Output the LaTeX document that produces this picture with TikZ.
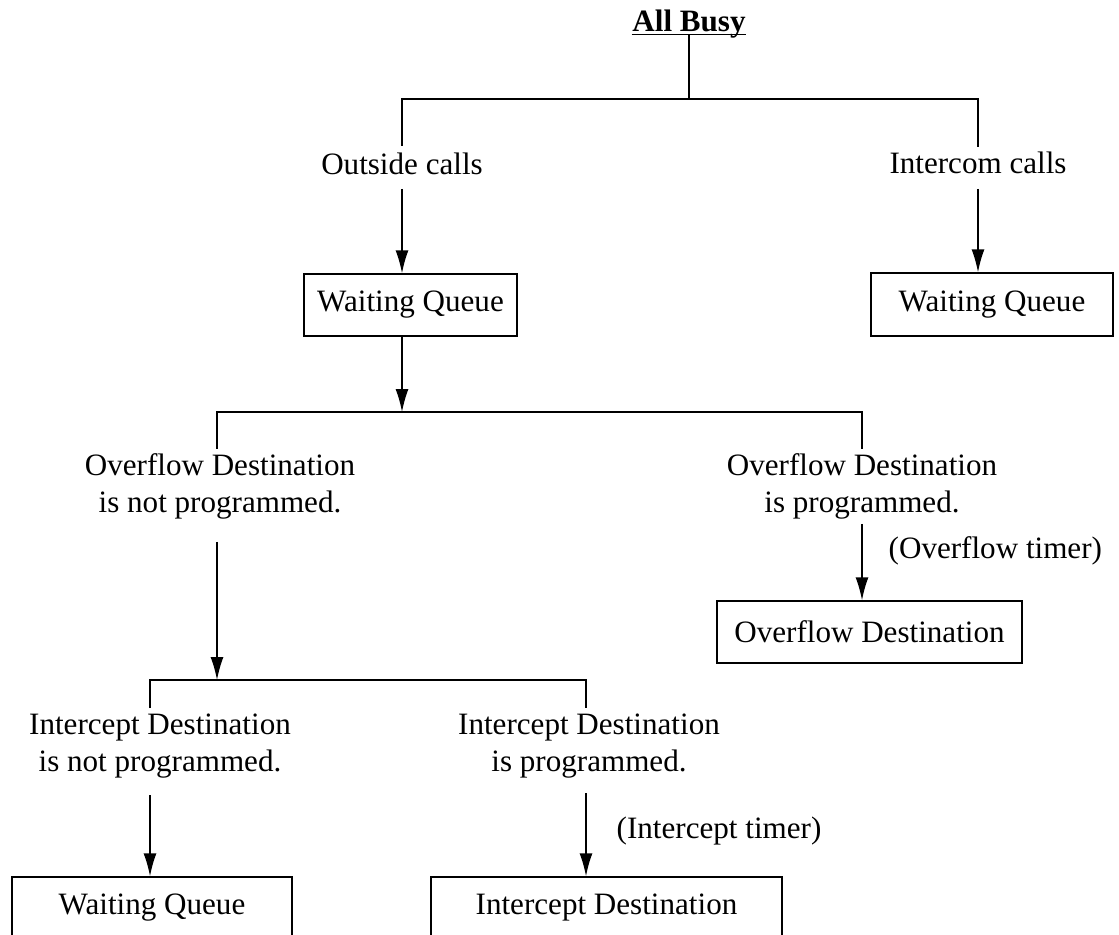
\documentclass[tikz,border=0pt]{standalone}
\usepackage{fontspec}
\setmainfont{Liberation Serif}
\usetikzlibrary{arrows.meta}
\tikzset{font=\fontsize{17.7}{21}\selectfont}
\tikzstyle{point}   = [coordinate]
\tikzstyle{block}   = [draw, rectangle, minimum height=1.24cm, inner sep=0pt]
\tikzstyle{txt}     = [inner sep=0pt, align=center]
\tikzstyle{heading} = [inner sep=0pt, font=\fontsize{17.7}{21}\selectfont\bfseries]

\begin{document}
\begin{tikzpicture}[x=0.02cm, y=-0.02cm, line width=0.8pt, >={Latex[length=4.6mm,width=2.6mm]}]
	\clip (0,0) rectangle (1119,935);

	% all busy
	\node [heading, anchor=base] (busy) at (689,32) {All Busy};
	\draw ([yshift=-1.3pt]busy.base west) -- ([yshift=-1.3pt]busy.base east);
	\node [point] (bar1) at (689,99) {};
	\node [point] (outtop) at (402,146) {};
	\node [point] (inttop) at (978,147) {};
	\draw ([yshift=-1.3pt]busy.base) -- (bar1);
	\draw (outtop) |- (bar1) -| (inttop);

	\node [txt, anchor=base] (outside) at (402,175) {Outside calls};
	\node [txt, anchor=base] (intercom) at (978,174) {Intercom calls};
	\node [block, minimum width=4.26cm] (wq1) at (410.5,305) {Waiting Queue};
	\node [block, minimum width=4.84cm, minimum height=1.26cm] (wq2) at (992,304.5) {Waiting Queue};
	\node [point] (outbot) at (402,189) {};
	\node [point] (intbot) at (978,189) {};
	\draw [->] (outbot) -- (outbot |- wq1.north);
	\draw [->] (intbot) -- (intbot |- wq2.north);

	% overflow
	\node [point] (bar2) at (402,412) {};
	\node [point] (ovntop) at (217,449) {};
	\node [point] (ovptop) at (862,449) {};
	\draw [->] (wq1.south -| bar2) -- (bar2);
	\draw (ovntop) |- (bar2) -| (ovptop);

	\node [txt] (ovn) at (220,486) {Overflow Destination\\is not programmed.};
	\node [txt] (ovp) at (862,486) {Overflow Destination\\is programmed.};
	\node [block, minimum width=6.1cm] (ovdest) at (869.5,632) {Overflow Destination};
	\node [point] (ovpbot) at (862,524) {};
	\draw [->] (ovpbot) -- (ovpbot |- ovdest.north);
	\node [txt, anchor=base west] (ovtimer) at (888,559) {(Overflow timer)};

	% intercept
	\node [point] (ovnbot) at (217,542) {};
	\node [point] (bar3) at (217,680) {};
	\node [point] (icntop) at (150,708) {};
	\node [point] (icptop) at (586,708) {};
	\draw [->] (ovnbot) -- (bar3);
	\draw (icntop) |- (bar3) -| (icptop);

	\node [txt] (icn) at (160,746) {Intercept Destination\\is not programmed.};
	\node [txt] (icp) at (589,746) {Intercept Destination\\is programmed.};
	\node [block, minimum width=5.6cm] (wq3) at (152,908) {Waiting Queue};
	\node [block, minimum width=7.02cm] (icdest) at (606.5,908) {Intercept Destination};
	\node [point] (icnbot) at (150,795) {};
	\node [point] (icpbot) at (586,793) {};
	\draw [->] (icnbot) -- (icnbot |- wq3.north);
	\draw [->] (icpbot) -- (icpbot |- icdest.north);
	\node [txt, anchor=base west] (ictimer) at (616,838) {(Intercept timer)};
\end{tikzpicture}
\end{document}
